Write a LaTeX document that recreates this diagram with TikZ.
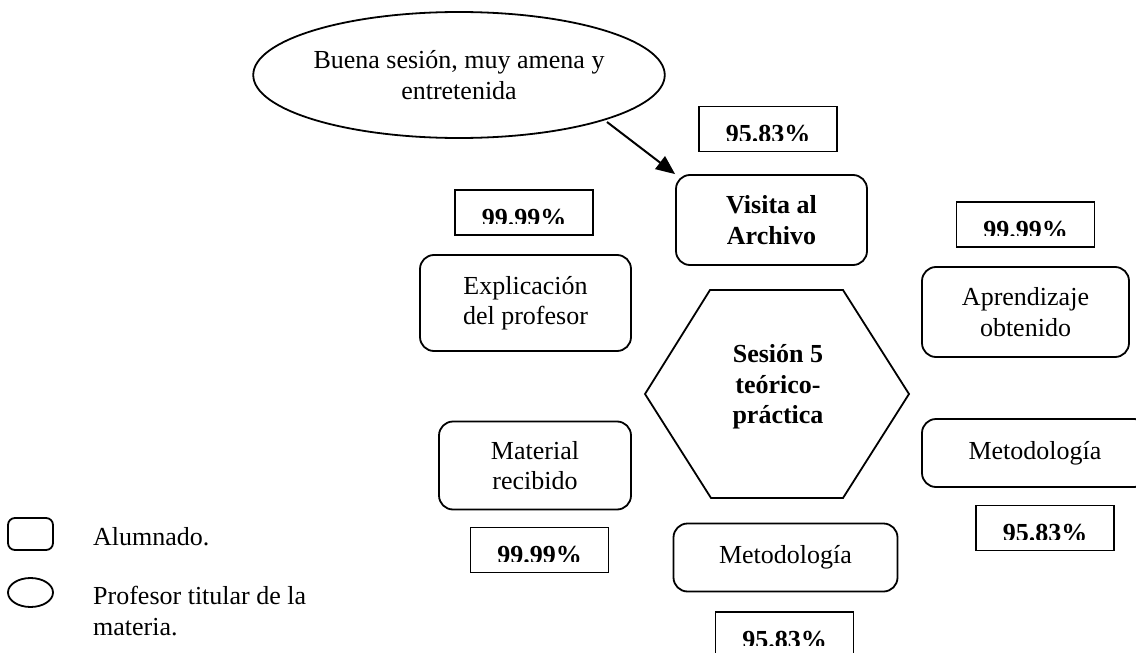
\documentclass[tikz,border=0pt]{standalone}
\usepackage{fontspec}
\setmainfont{Liberation Serif}
\usetikzlibrary{arrows.meta,shapes.geometric}
\newcommand\diagfs{\fontsize{26}{30.5}\selectfont}
\tikzset{
  alum/.style={draw, line width=1.8pt, rounded corners=14pt, align=center, inner sep=0pt, fill=white},
  pctframe/.style={draw, line width=1.8pt, minimum width=138pt, minimum height=45pt, inner sep=0pt},
  pcttext/.style={font=\diagfs\bfseries, anchor=base, inner sep=0pt},
  prof/.style={draw, ellipse, line width=1.8pt, align=center, inner sep=0pt},
  lbl/.style={anchor=base west, inner sep=0pt},
  arr/.style={line width=2pt, -{Triangle[length=19pt,width=16pt]}},
}
\newcommand\pctbox[3]{%
  \node[pctframe] (#1) at (#2) {};
  \begin{scope}
    \clip ([yshift=12pt]#1.south west) rectangle (#1.north east);
    \node[pcttext] (#1t) at ([yshift=9.5pt]#1.south) {#3};
  \end{scope}}
\begin{document}
\begin{tikzpicture}[x=1pt,y=-1pt, font=\diagfs]
\useasboundingbox (0,0) rectangle (1136,653);

% hexagon
\coordinate (h1) at (645,394);
\coordinate (h2) at (710,290);
\coordinate (h3) at (843,290);
\coordinate (h4) at (909,394);
\coordinate (h5) at (843,498);
\coordinate (h6) at (711,498);
\draw[line width=1.8pt, line join=miter] (h1) -- (h2) -- (h3) -- (h4) -- (h5) -- (h6) -- cycle;
\node[font=\diagfs\bfseries, align=center, inner sep=0pt] (hex) at (778,387) {Sesión 5\\teórico-\\práctica};

% teacher comment
\node[prof, minimum width=373pt, minimum height=126pt] (ell) at (459,75) {Buena sesión, muy amena y\\entretenida};

% student boxes
\node[alum, font=\diagfs\bfseries, minimum width=191pt, minimum height=90pt] (visita) at (771.5,220) {Visita al\\Archivo};
\node[alum, minimum width=211pt, minimum height=96pt] (expl) at (525.5,303) {Explicación\\del profesor};
\node[alum, minimum width=207pt, minimum height=90pt] (apre) at (1025.5,312) {Aprendizaje\\obtenido};
\node[alum, minimum width=192pt, minimum height=88pt] (mate) at (535,465.5) {Material\\recibido};
\node[alum, minimum width=226pt, minimum height=68pt] (metr) at (1035,453) {Metodología};
\node[alum, minimum width=224pt, minimum height=68pt] (metb) at (785.5,557.5) {Metodología};

% percentages
\pctbox{p1}{768,129}{95.83\%}
\pctbox{p2}{524,212.5}{99.99\%}
\pctbox{p3}{1025.5,224.5}{99.99\%}
\pctbox{p4}{539.5,550}{99.99\%}
\pctbox{p5}{1045,528}{95.83\%}
\pctbox{p6}{784.5,634.5}{95.83\%}

% arrow
\coordinate (a0) at (607,122);
\draw[arr] (a0) -- (visita.north west);

% legend
\node[draw, line width=1.8pt, rounded corners=7pt, minimum width=45pt, minimum height=32pt, inner sep=0pt] (legA) at (30.5,534) {};
\node[prof, minimum width=45pt, minimum height=29pt] (legB) at (30.5,592.5) {};
\node[lbl] (legAt) at (93,545) {Alumnado.};
\node[lbl] (legBt) at (93,604) {Profesor titular de la};
\node[lbl] (legBt2) at (93,635) {materia.};
\end{tikzpicture}
\end{document}
